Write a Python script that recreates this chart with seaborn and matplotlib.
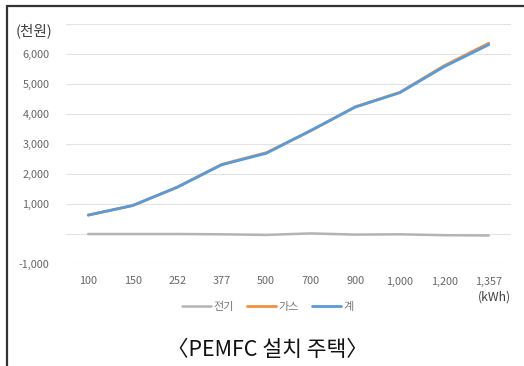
import matplotlib
matplotlib.use("Agg")
import matplotlib.pyplot as plt
import seaborn as sns
import pandas as pd
from matplotlib.lines import Line2D

sns.set_theme(style="white")
plt.rcParams['font.family'] = ['Noto Sans CJK KR', 'DejaVu Sans']

# Monthly usage categories (kWh)
usage = ["100", "150", "252", "377", "500", "700", "900", "1,000", "1,200", "1,357"]
# Values in thousand won
electric = [0, 0, 0, -10, -30, 20, -20, -10, -40, -50]
gas = [630, 950, 1560, 2320, 2710, 3440, 4240, 4720, 5610, 6360]
total = [630, 950, 1560, 2310, 2690, 3450, 4230, 4710, 5580, 6310]
series_names = ["전기", "가스", "계"]
colors = ["#B4B4B4", "#F0913F", "#5B9BD5"]
widths = [1.8, 2.0, 2.0]

rows = []
for name, vals in zip(series_names, [electric, gas, total]):
    for i, v in enumerate(vals):
        rows.append({"pos": i, "usage": usage[i], "series": name, "value": v})
df = pd.DataFrame(rows)

fig = plt.figure(figsize=(5.24, 3.66), dpi=100)
ax = fig.add_axes([66 / 524, 1 - 264 / 366, (511 - 66) / 524, (264 - 24) / 366])

for name, c, w in zip(series_names, colors, widths):
    sns.lineplot(data=df[df["series"] == name], x="pos", y="value", color=c,
                 linewidth=w, legend=False, ax=ax, sort=False)

ax.set_xlim(-0.5, len(usage) - 0.5)
ax.set_ylim(-1000, 7000)
ax.set_xticks(range(len(usage)))
ax.set_xticklabels(usage)
ax.set_yticks([-1000, 0, 1000, 2000, 3000, 4000, 5000, 6000, 7000])
ax.set_yticklabels(["-1,000", "", "1,000", "2,000", "3,000", "4,000", "5,000", "6,000", ""])
ax.yaxis.grid(True, color="#E3E3E3", linewidth=0.8)
ax.set_axisbelow(True)
for s in ax.spines.values():
    s.set_visible(False)
ax.tick_params(axis="both", length=0, labelsize=7.8, labelcolor="#666666")
ax.tick_params(axis="x", pad=9)
ax.tick_params(axis="y", pad=12)
ax.set_xlabel("")
ax.set_ylabel("")

fig.text(16 / 524, 1 - 31 / 366, "(천원)", fontsize=10.5, color="#404040",
         va="center", ha="left")
fig.text(494 / 524, 1 - 297 / 366, "(kWh)", fontsize=8.8, color="#404040",
         va="center", ha="center")

handles = [Line2D([0], [0], color=c, linewidth=w) for c, w in zip(colors, widths)]
fig.legend(handles, series_names, loc="center", bbox_to_anchor=(268 / 524, 1 - 307 / 366),
           ncol=3, frameon=False, fontsize=8, handlelength=2.6, handletextpad=0.2,
           columnspacing=1.2, labelcolor="#777777")

fig.text(267 / 524, 1 - 350 / 366, "〈PEMFC 설치 주택〉", fontsize=15.5, color="#111111",
         ha="center", va="center")

# Frame lines along the left and top edges
fig.add_artist(Line2D([7 / 524, 7 / 524], [0, 1 - 5.5 / 366], transform=fig.transFigure,
                      color="#333333", linewidth=1.6))
fig.add_artist(Line2D([7 / 524, 1], [1 - 5.5 / 366, 1 - 5.5 / 366], transform=fig.transFigure,
                      color="#333333", linewidth=1.6))

fig.savefig("out.png", dpi=100)
